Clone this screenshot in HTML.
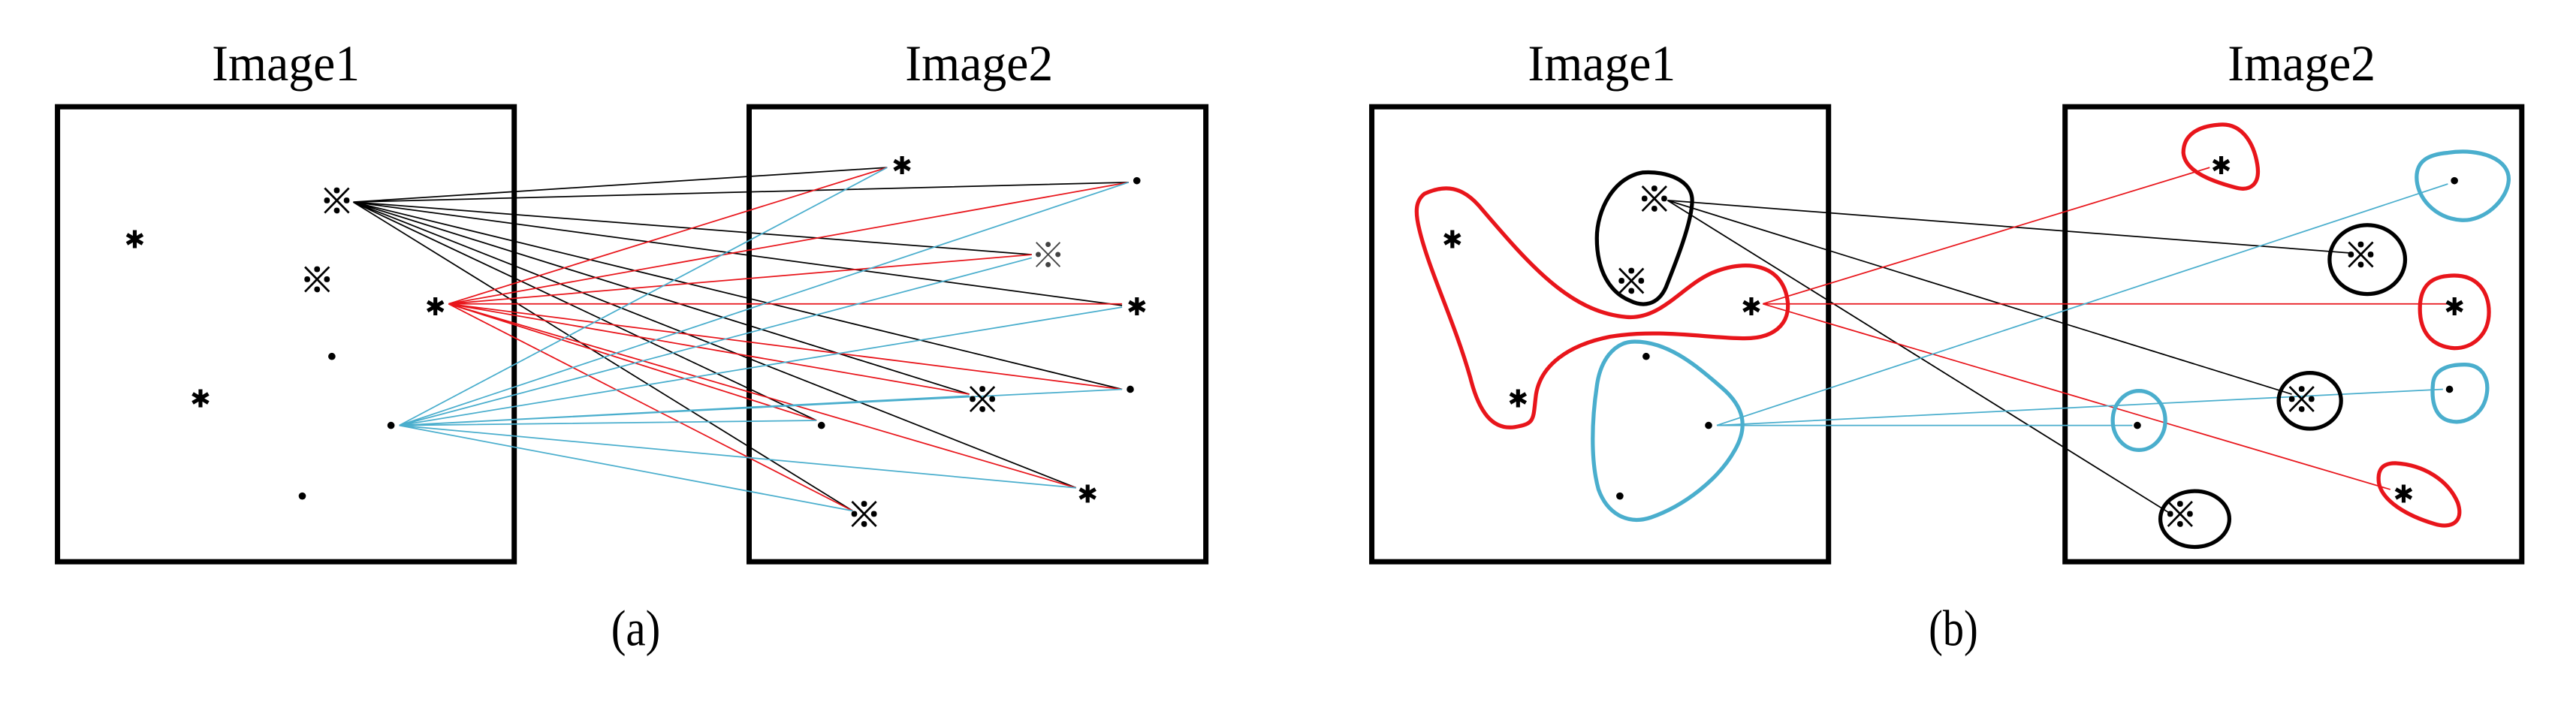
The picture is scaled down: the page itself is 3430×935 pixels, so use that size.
<!DOCTYPE html>
<html><head><meta charset="utf-8"><style>
html,body{margin:0;padding:0;background:#fff;}
svg{display:block;}
text{font-family:"Liberation Serif","Noto Serif CJK SC",serif;}
.t{font-size:31px;}
.s{font-size:21px;font-family:"Noto Sans CJK SC","Liberation Sans",sans-serif;stroke:#000;stroke-width:0.4;}
.a{font-size:15px;font-family:"Liberation Sans","Noto Sans CJK SC",sans-serif;}
.k{fill:none;stroke:#000;stroke-width:0.8;}
.r{fill:none;stroke:#e8151b;stroke-width:0.8;}
.c{fill:none;stroke:#4aaecd;stroke-width:0.8;}
.box{fill:none;stroke:#000;stroke-width:3.2;}
.br{fill:none;stroke:#e8151b;stroke-width:2.4;}
.bk{fill:none;stroke:#000;stroke-width:2.4;}
.bc{fill:none;stroke:#4aaecd;stroke-width:2.4;}
</style></head><body>
<svg width="3430" height="935" viewBox="0 0 1568 427.4" preserveAspectRatio="none" xmlns="http://www.w3.org/2000/svg">
<!-- Panel a -->
<text class="t" x="129" y="49" textLength="90" lengthAdjust="spacingAndGlyphs">Image1</text>
<text class="t" x="551" y="49" textLength="90" lengthAdjust="spacingAndGlyphs">Image2</text>
<text class="t" x="372" y="393" textLength="30" lengthAdjust="spacingAndGlyphs">(a)</text>
<rect class="box" x="35" y="65" width="278" height="277"/>
<rect class="box" x="456" y="65" width="278" height="277"/>
<g class="k">
<path d="M215 123L540 102M215 123L687 111M215 123L628 155M215 123L683 186M215 123L683 237M215 123L590 240M215 123L497 256M215 123L655 297M215 123L519 311"/>
</g>
<g class="r">
<path d="M273 185L540 102M273 185L687 111M273 185L628 155M273 185L683 185M273 185L683 237M273 185L590 240M273 185L497 256M273 185L655 297M273 185L519 311"/>
</g>
<g class="c">
<path d="M243 259L540 102M243 259L687 111M243 259L628 157M243 259L683 187M243 259L683 237M243 259L590 241M243 259L497 256M243 259L655 297M243 259L519 311"/>
</g>
<g>
<text class="a" x="82" y="151" text-anchor="middle">✱</text>
<text class="s" x="205" y="130" text-anchor="middle">※</text>
<text class="s" x="193" y="178" text-anchor="middle">※</text>
<text class="a" x="265" y="192" text-anchor="middle">✱</text>
<circle cx="202" cy="217" r="2.2"/>
<text class="a" x="122" y="248" text-anchor="middle">✱</text>
<circle cx="238" cy="259" r="2.2"/>
<circle cx="184" cy="302" r="2.2"/>
<text class="a" x="549" y="106" text-anchor="middle">✱</text>
<circle cx="692" cy="110" r="2.2"/>
<text class="s" x="638" y="163" text-anchor="middle" style="stroke:none" fill="#444">※</text>
<text class="a" x="692" y="192" text-anchor="middle">✱</text>
<circle cx="688" cy="237" r="2.2"/>
<text class="s" x="598" y="251" text-anchor="middle">※</text>
<circle cx="500" cy="259" r="2.2"/>
<text class="a" x="662" y="306" text-anchor="middle">✱</text>
<text class="s" x="526" y="321" text-anchor="middle">※</text>
</g>

<!-- Panel b -->
<text class="t" x="930" y="49" textLength="90" lengthAdjust="spacingAndGlyphs">Image1</text>
<text class="t" x="1356" y="49" textLength="90" lengthAdjust="spacingAndGlyphs">Image2</text>
<text class="t" x="1174" y="393" textLength="30" lengthAdjust="spacingAndGlyphs">(b)</text>
<rect class="box" x="835" y="65" width="278" height="277"/>
<rect class="box" x="1257" y="65" width="278" height="277"/>
<path class="br" d="M867 118C880 112 890 114 900 125C930 160 955 190 990 193C1012 195 1025 172 1045 165C1065 158 1082 162 1087 178C1092 195 1082 206 1062 206C1040 206 1010 200 980 205C955 210 938 222 935 240C933 255 935 258 922 260C908 262 900 250 895 230C885 195 870 165 864 140C861 128 862 122 867 118Z"/>
<path class="bk" d="M1000 105C1015 104 1030 110 1030 122C1030 135 1020 160 1014 175C1009 186 1000 187 992 183C980 178 972 165 972 145C972 128 982 108 1000 105Z"/>
<path class="bc" d="M995 208C1015 208 1032 222 1048 236C1062 248 1064 260 1056 274C1046 292 1025 308 1005 315C990 320 978 312 973 298C968 280 969 255 972 235C974 220 982 208 995 208Z"/>
<g class="k">
<path d="M1015 122L1430 154M1015 122L1395 240M1015 122L1320 312"/>
</g>
<g class="r">
<path d="M1073 185L1345 102M1073 185L1490 185M1073 185L1455 298"/>
</g>
<g class="c">
<path d="M1045 259L1490 112M1045 259L1487 237M1045 259L1298 259"/>
</g>
<path class="br" d="M1350 76C1365 74 1372 88 1374 100C1376 112 1370 117 1360 114C1345 110 1330 104 1329 93C1329 82 1338 77 1350 76Z"/>
<path class="bc" d="M1490 93C1510 90 1528 97 1527 110C1526 122 1512 135 1498 134C1482 133 1471 120 1471 108C1471 98 1478 94 1490 93Z"/>
<ellipse class="bk" cx="1441" cy="158" rx="23" ry="21"/>
<path class="br" d="M1490 168C1508 166 1515 178 1515 190C1515 204 1505 212 1494 212C1480 211 1473 202 1473 188C1473 176 1478 169 1490 168Z"/>
<path class="bc" d="M1500 222C1512 222 1516 232 1513 243C1510 253 1500 259 1490 256C1481 253 1480 242 1481 233C1482 225 1490 222 1500 222Z"/>
<ellipse class="bk" cx="1406" cy="244" rx="19" ry="17"/>
<ellipse class="bc" cx="1302" cy="256" rx="16" ry="18"/>
<path class="br" d="M1458 282C1475 283 1490 292 1496 306C1500 318 1492 322 1482 319C1465 314 1450 305 1448 294C1447 286 1450 282 1458 282Z"/>
<ellipse class="bk" cx="1336" cy="316" rx="21" ry="17"/>
<g>
<text class="a" x="884" y="151" text-anchor="middle">✱</text>
<text class="s" x="1007" y="129" text-anchor="middle">※</text>
<text class="s" x="993" y="179" text-anchor="middle">※</text>
<text class="a" x="1066" y="192" text-anchor="middle">✱</text>
<circle cx="1002" cy="217" r="2.2"/>
<text class="a" x="924" y="248" text-anchor="middle">✱</text>
<circle cx="1040" cy="259" r="2.2"/>
<circle cx="986" cy="302" r="2.2"/>
<text class="a" x="1352" y="106" text-anchor="middle">✱</text>
<circle cx="1494" cy="110" r="2.2"/>
<text class="s" x="1437" y="163" text-anchor="middle">※</text>
<text class="a" x="1494" y="192" text-anchor="middle">✱</text>
<circle cx="1491" cy="237" r="2.2"/>
<text class="s" x="1401" y="251" text-anchor="middle">※</text>
<circle cx="1301" cy="259" r="2.2"/>
<text class="a" x="1463" y="306" text-anchor="middle">✱</text>
<text class="s" x="1327" y="321" text-anchor="middle">※</text>
</g>
</svg>
</body></html>
